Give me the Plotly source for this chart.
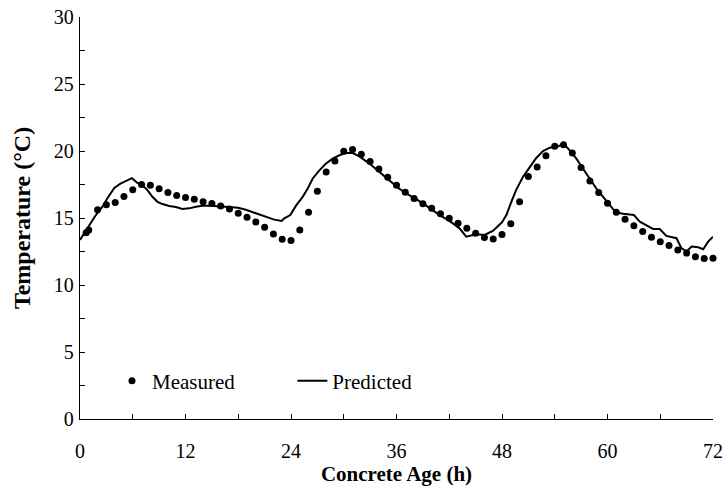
import plotly.graph_objects as go

# Measured temperatures (hourly)
measured_hours = [0.7, 1, 2, 3, 4, 5, 6, 7, 8, 9, 10, 11, 12, 13, 14, 15, 16, 17, 18,
                  19, 20, 21, 22, 23, 24, 25, 26, 27, 28, 29, 30, 31, 32, 33, 34, 35, 36,
                  37, 38, 39, 40, 41, 42, 43, 44, 45, 46, 47, 48, 49, 50, 51, 52, 53, 54,
                  55, 56, 57, 58, 59, 60, 61, 62, 63, 64, 65, 66, 67, 68, 69, 70, 71, 72]
measured_temp = [13.9, 14.1, 15.62, 15.99, 16.16, 16.61, 17.10, 17.50, 17.45, 17.18, 16.91,
                 16.68, 16.53, 16.39, 16.21, 16.09, 15.89, 15.67, 15.36,
                 15.05, 14.70, 14.31, 13.81, 13.42, 13.32, 14.11, 15.42, 17.00, 18.44,
                 19.26, 19.98, 20.12, 19.75, 19.21, 18.66, 18.04, 17.45,
                 16.93, 16.46, 16.06, 15.72, 15.32, 14.98, 14.60, 14.23, 13.86, 13.54,
                 13.44, 13.76, 14.58, 16.21, 18.09, 18.81, 19.65, 20.35,
                 20.47, 19.85, 18.76, 17.77, 16.91, 16.11, 15.42, 14.90, 14.43, 13.99,
                 13.56, 13.22, 12.95, 12.62, 12.38, 12.10, 11.98, 12.00]

# Predicted temperatures
predicted_hours = [0, 0.35, 1.0, 1.8, 2.55, 3.1, 3.9, 4.6, 5.2, 5.9, 6.53, 7.1, 7.67, 8.24,
                   8.81, 9.38, 10.14, 10.9, 11.66, 12.42, 13.18, 13.93, 14.7, 15.45, 16.2,
                   16.97, 17.96, 18.87, 20.0, 21.15, 22.1, 22.94, 23.24, 23.92, 24.57,
                   25.33, 25.9, 26.47, 27.23, 27.98, 28.74, 29.5, 30.26, 31.02, 31.78,
                   32.92, 34.06, 35.2, 36.19, 37.1, 38.24, 39.37, 40.9, 42.03, 43.17,
                   43.93, 45.07, 46.0, 46.96, 48.0, 48.5, 49.06, 49.6, 50.39, 51.15,
                   51.9, 52.67, 53.43, 54.4, 55.01, 55.7, 56.46, 57.2, 57.98, 58.73,
                   59.5, 60.25, 60.94, 61.78, 63.0, 63.67, 64.43, 65.18, 65.94, 66.7,
                   67.85, 68.4, 69.0, 69.56, 70.33, 70.88, 71.45, 72.0]
predicted_temp = [13.37, 13.74, 14.48, 15.22, 15.84, 16.46, 17.25, 17.57, 17.75, 17.97,
                  17.62, 17.45, 17.08, 16.58, 16.21, 16.04, 15.89, 15.82, 15.67, 15.72,
                  15.84, 15.92, 15.92, 15.87, 15.84, 15.82, 15.77, 15.62, 15.35, 15.10,
                  14.88, 14.78, 14.98, 15.22, 15.92, 16.58, 17.20, 17.95, 18.56, 19.06,
                  19.43, 19.68, 19.85, 19.85, 19.60, 19.06, 18.44, 17.75, 17.25, 16.83,
                  16.41, 15.92, 15.22, 14.78, 14.23, 13.61, 13.79, 13.74, 14.03, 14.68,
                  15.22, 16.21, 17.08, 18.07, 18.81, 19.48, 20.00, 20.25, 20.35, 20.54,
                  20.05, 19.43, 18.69, 17.95, 17.20, 16.58, 15.97, 15.42, 15.32, 15.22,
                  14.73, 14.43, 14.18, 14.18, 13.66, 13.49, 12.75, 12.50, 12.87, 12.82,
                  12.67, 13.24, 13.61]

x_ticks = [0, 12, 24, 36, 48, 60, 72]
y_ticks = [0, 5, 10, 15, 20, 25, 30]

FONT = "Liberation Serif, Times New Roman, serif"

fig = go.Figure()
fig.add_trace(go.Scatter(
    x=measured_hours, y=measured_temp, mode="markers", name="Measured",
    marker=dict(color="black", size=7), legend="legend", cliponaxis=False))
fig.add_trace(go.Scatter(
    x=predicted_hours, y=predicted_temp, mode="lines", name="Predicted",
    line=dict(color="black", width=2), legend="legend2", cliponaxis=False))

legend_common = dict(font=dict(family=FONT, size=21, color="black"),
                     bgcolor="rgba(0,0,0,0)", yanchor="middle", xanchor="left",
                     y=0.094, tracegroupgap=0, itemwidth=30)

fig.update_layout(
    width=725, height=487,
    margin=dict(l=80, r=12, t=17, b=68),
    paper_bgcolor="white", plot_bgcolor="white",
    font=dict(family=FONT, size=20, color="black"),
    showlegend=True,
    legend=dict(x=0.0505, **legend_common),
    legend2=dict(x=0.3355, **legend_common),
    xaxis=dict(
        range=[0, 72], tickvals=x_ticks, ticks="inside", ticklen=5, tickwidth=1.3,
        tickcolor="black", showline=True, linecolor="black", linewidth=1.3,
        showgrid=False, zeroline=False, ticklabelstandoff=14, automargin=False,
        ticklabeloverflow="allow",
        minor=dict(dtick=6, ticks="inside", ticklen=5, tickwidth=1.3, tickcolor="black", showgrid=False),
        title=dict(text="<b>Concrete Age (h)</b>", standoff=0,
                   font=dict(family=FONT, size=21)),
        tickfont=dict(family=FONT, size=20),
    ),
    yaxis=dict(
        range=[0, 30], tickvals=y_ticks, ticks="inside", ticklen=5, tickwidth=1.3,
        tickcolor="black", showline=True, linecolor="black", linewidth=1.3,
        showgrid=False, zeroline=False, ticklabelstandoff=1, automargin=False,
        ticklabeloverflow="allow",
        minor=dict(dtick=2.5, ticks="inside", ticklen=5, tickwidth=1.3, tickcolor="black", showgrid=False),
        title=dict(text="<b>Temperature (°C)</b>", standoff=16,
                   font=dict(family=FONT, size=24)),
        tickfont=dict(family=FONT, size=20),
    ),
)

# remove the default page margin so the figure sits at the window's top-left corner
fig.write_html("out.html",
               config={"displayModeBar": False},
               post_script="document.body.style.margin='0';document.body.style.overflow='hidden';")
